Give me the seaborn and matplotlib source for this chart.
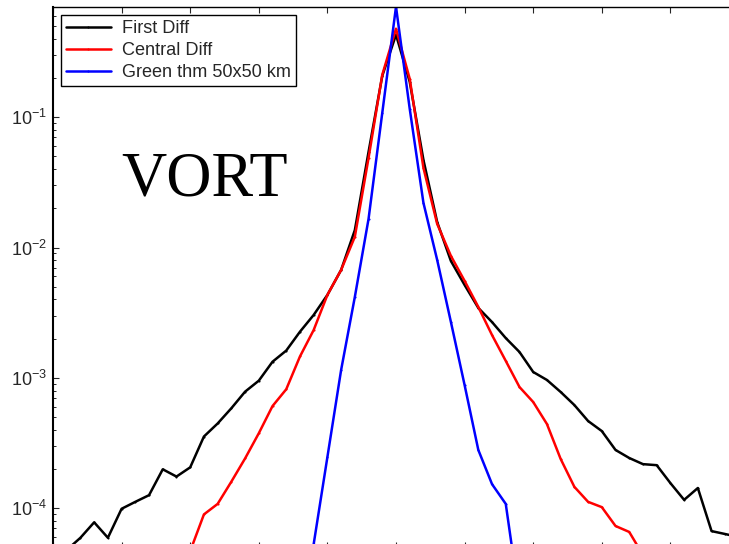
import numpy as np
import pandas as pd
import matplotlib
matplotlib.use("Agg")
import matplotlib.pyplot as plt
import seaborn as sns
from matplotlib.ticker import LogLocator, NullFormatter, MultipleLocator, NullLocator, LogFormatterSciNotation

# ---------------- data (bin index, bin width, PDF values) ----------------
bin_width = 0.2
bins_first = list(range(-25, 26))
first_diff = [4.30e-5, 4.78e-5, 5.94e-5, 7.80e-5, 5.94e-5, 9.91e-5, 1.12e-4, 1.26e-4,
              1.99e-4, 1.75e-4, 2.06e-4, 3.55e-4, 4.47e-4, 5.85e-4, 7.84e-4, 9.52e-4,
              1.33e-3, 1.62e-3, 2.26e-3, 3.04e-3, 4.33e-3, 6.73e-3, 1.36e-2, 5.42e-2,
              0.2075, 0.429, 0.1866, 4.70e-2, 1.57e-2, 7.89e-3, 5.16e-3, 3.44e-3,
              2.68e-3, 2.02e-3, 1.58e-3, 1.11e-3, 9.64e-4, 7.80e-4, 6.19e-4, 4.67e-4,
              3.91e-4, 2.80e-4, 2.43e-4, 2.18e-4, 2.14e-4, 1.56e-4, 1.16e-4, 1.43e-4,
              6.68e-5, 6.34e-5, 6.01e-5]
bins_central = list(range(-16, 19))
central_diff = [2.58e-5, 4.69e-5, 8.97e-5, 1.08e-4, 1.60e-4, 2.41e-4, 3.76e-4, 6.08e-4,
                8.18e-4, 1.46e-3, 2.33e-3, 4.33e-3, 6.73e-3, 1.21e-2, 4.87e-2, 0.2114,
                0.477, 0.1968, 4.08e-2, 1.52e-2, 8.63e-3, 5.55e-3, 3.50e-3, 2.13e-3,
                1.35e-3, 8.51e-4, 6.53e-4, 4.43e-4, 2.39e-4, 1.46e-4, 1.12e-4, 1.02e-4,
                7.31e-5, 6.58e-5, 4.38e-5]
bins_green = list(range(-7, 10))
green_thm = [1.16e-5, 5.31e-5, 2.47e-4, 1.15e-3, 4.18e-3, 1.66e-2, 0.108, 0.703,
             0.116, 2.20e-2, 8.04e-3, 2.69e-3, 8.81e-4, 2.80e-4, 1.53e-4, 1.08e-4, 1.98e-5]

series_names = ["First Diff", "Central Diff", "Green thm 50x50 km"]
series_colors = ["#000000", "#ff0000", "#0000ff"]
ytick_values = [1e-4, 1e-3, 1e-2, 1e-1]
title_text = "VORT"

frames = []
for name, bins, vals in zip(series_names, [bins_first, bins_central, bins_green],
                            [first_diff, central_diff, green_thm]):
    frames.append(pd.DataFrame({"x": np.array(bins) * bin_width, "pdf": vals, "series": name}))
df = pd.concat(frames, ignore_index=True)

# ---------------- style ----------------
sns.set_style("ticks")
plt.rcParams["font.family"] = ["Liberation Sans", "DejaVu Sans"]
plt.rcParams["mathtext.fontset"] = "custom"
plt.rcParams["mathtext.rm"] = "Liberation Sans"
plt.rcParams["mathtext.it"] = "Liberation Sans:italic"
plt.rcParams["mathtext.bf"] = "Liberation Sans:bold"

W, H = 729, 544
fig = plt.figure(figsize=(W / 100, H / 100), dpi=100)
ax = fig.add_axes([53 / W, -3.5 / H, 686 / W, 540.5 / H])

sns.lineplot(data=df, x="x", y="pdf", hue="series", hue_order=series_names,
             palette=dict(zip(series_names, series_colors)), ax=ax,
             linewidth=1.8, marker=".", markersize=3, markeredgewidth=0,
             sort=True, estimator=None, legend=True)

ax.set_yscale("log")
ax.set_xlim(-5, 5)
ax.set_ylim(5e-5, 0.7)
ax.set_xlabel("")
ax.set_ylabel("")

ax.xaxis.set_major_locator(MultipleLocator(1))
ax.xaxis.set_minor_locator(NullLocator())
ax.set_xticklabels([])
ax.set_yticks(ytick_values)
ax.yaxis.set_major_formatter(LogFormatterSciNotation())
ax.yaxis.set_minor_locator(LogLocator(base=10, subs=np.arange(2, 10)))
ax.yaxis.set_minor_formatter(NullFormatter())

ax.tick_params(axis="both", which="major", direction="in", length=4, width=0.8,
               top=True, right=True, labelsize=13, pad=4)
ax.tick_params(axis="both", which="minor", direction="in", length=2.2, width=0.7,
               top=True, right=True)
for s in ["left", "top", "right", "bottom"]:
    ax.spines[s].set_visible(True)
    ax.spines[s].set_linewidth(1.0)
    ax.spines[s].set_color("black")
ax.spines["left"].set_linewidth(1.5)

leg = ax.legend(loc="upper left", bbox_to_anchor=(0.0117, 0.985), borderaxespad=0,
                frameon=True, fancybox=False, framealpha=1, edgecolor="black",
                fontsize=13.1, handlelength=2.45, handletextpad=0.6,
                labelspacing=0.28, borderpad=0.28, title=None)
leg.get_frame().set_linewidth(1.0)
for line in leg.get_lines():
    line.set_linewidth(1.8)

fig.text(121 / W, 1 - 196 / H, title_text, family="Liberation Serif", fontsize=45,
         va="baseline", ha="left", color="black")

fig.savefig("out.png", dpi=100)
